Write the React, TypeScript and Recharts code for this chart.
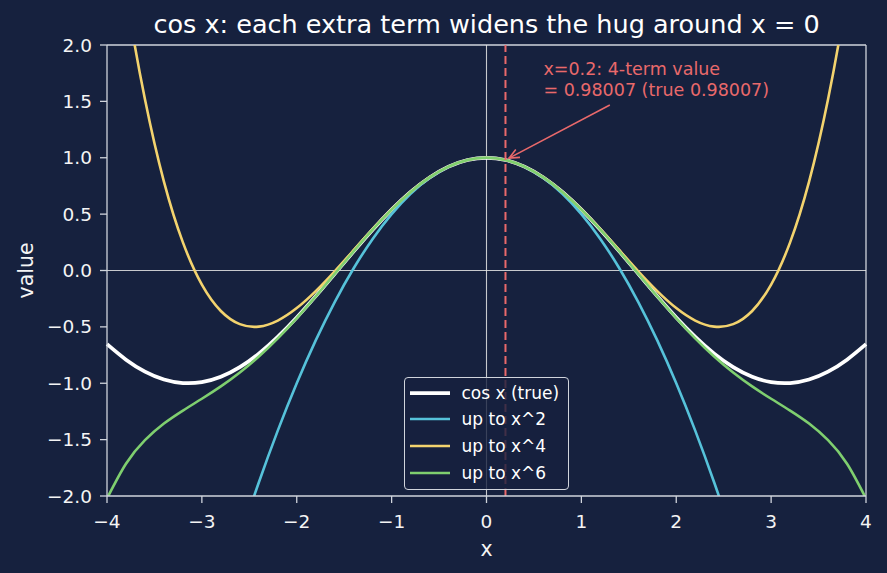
import { LineChart, Line, XAxis, YAxis, ReferenceLine, ReferenceDot, Legend } from 'recharts';

// sample points along x (step 0.2)
const xs = [
  -4, -3.8, -3.6, -3.4, -3.2, -3, -2.8, -2.6, -2.4, -2.2, -2, -1.8, -1.6, -1.4, -1.2, -1, -0.8, -0.6, -0.4, -0.2,
  0, 0.2, 0.4, 0.6, 0.8, 1, 1.2, 1.4, 1.6, 1.8, 2, 2.2, 2.4, 2.6, 2.8, 3, 3.2, 3.4, 3.6, 3.8, 4,
];

const cosTrue = [
  -0.65364, -0.79097, -0.89676, -0.9668, -0.99829, -0.98999, -0.94222, -0.85689, -0.73739, -0.5885,
  -0.41615, -0.2272, -0.0292, 0.16997, 0.36236, 0.5403, 0.69671, 0.82534, 0.92106, 0.98007,
  1,
  0.98007, 0.92106, 0.82534, 0.69671, 0.5403, 0.36236, 0.16997, -0.0292, -0.2272, -0.41615,
  -0.5885, -0.73739, -0.85689, -0.94222, -0.98999, -0.99829, -0.9668, -0.89676, -0.79097, -0.65364,
];

const upToX2 = [
  -7, -6.22, -5.48, -4.78, -4.12, -3.5, -2.92, -2.38, -1.88, -1.42,
  -1, -0.62, -0.28, 0.02, 0.28, 0.5, 0.68, 0.82, 0.92, 0.98,
  1,
  0.98, 0.92, 0.82, 0.68, 0.5, 0.28, 0.02, -0.28, -0.62, -1,
  -1.42, -1.88, -2.38, -2.92, -3.5, -4.12, -4.78, -5.48, -6.22, -7,
];

const upToX4 = [
  3.66667, 2.46807, 1.5184, 0.7881, 0.2491, -0.125, -0.35893, -0.47593, -0.4976, -0.44393,
  -0.33333, -0.1826, -0.00693, 0.18007, 0.3664, 0.54167, 0.69707, 0.8254, 0.92107, 0.98007,
  1,
  0.98007, 0.92107, 0.8254, 0.69707, 0.54167, 0.3664, 0.18007, -0.00693, -0.1826, -0.33333,
  -0.44393, -0.4976, -0.47593, -0.35893, -0.125, 0.2491, 0.7881, 1.5184, 2.46807, 3.66667,
];

const upToX6 = [
  -2.02222, -1.71379, -1.50491, -1.35746, -1.24221, -1.1375, -1.02822, -0.90498, -0.76302, -0.6014,
  -0.42222, -0.22984, -0.03023, 0.16961, 0.36225, 0.54028, 0.69671, 0.82534, 0.92106, 0.98007,
  1,
  0.98007, 0.92106, 0.82534, 0.69671, 0.54028, 0.36225, 0.16961, -0.03023, -0.22984, -0.42222,
  -0.6014, -0.76302, -0.90498, -1.02822, -1.1375, -1.24221, -1.35746, -1.50491, -1.71379, -2.02222,
];

const xTicks = [-4, -3, -2, -1, 0, 1, 2, 3, 4];
const yTicks = [-2, -1.5, -1, -0.5, 0, 0.5, 1, 1.5, 2];

const seriesKeys = ['cos', 't2', 't4', 't6'];
const seriesNames = ['cos x (true)', 'up to x^2', 'up to x^4', 'up to x^6'];
const seriesColors = ['#ffffff', '#56c2da', '#f3d36e', '#7fcf6f'];
const seriesWidths = [3.75, 2.6, 2.6, 2.6];

// annotation
const markX = 0.2;
const markY = 0.98007;
const noteX = 0.6;
const noteY = 1.55;
const arrowTail = { x: 1.3, y: 1.468 };
const noteLines = ['x=0.2: 4-term value', '= 0.98007 (true 0.98007)'];

const BG = '#16213e';
const SPINE = '#d0d4dc';
const RED = '#e9696b';
const FONT = '"DejaVu Sans", sans-serif';

const minus = (s: string) => s.replace('-', '\u2212');

function Arrow(props: any) {
  const { x1, y1, x2, y2 } = props;
  const dx = x2 - x1;
  const dy = y2 - y1;
  const len = Math.sqrt(dx * dx + dy * dy);
  const ux = dx / len;
  const uy = dy / len;
  // shrink a little at the tip like matplotlib
  const tx = x2 - ux * 4;
  const ty = y2 - uy * 4;
  const head = 11;
  const ang = 0.42;
  const bx = -ux;
  const by = -uy;
  const ax1 = tx + head * (bx * Math.cos(ang) - by * Math.sin(ang));
  const ay1 = ty + head * (bx * Math.sin(ang) + by * Math.cos(ang));
  const ax2 = tx + head * (bx * Math.cos(-ang) - by * Math.sin(-ang));
  const ay2 = ty + head * (bx * Math.sin(-ang) + by * Math.cos(-ang));
  return (
    <g stroke={RED} strokeWidth={1.6} fill="none">
      <line x1={x1} y1={y1} x2={tx} y2={ty} />
      <polyline points={`${ax1},${ay1} ${tx},${ty} ${ax2},${ay2}`} />
    </g>
  );
}

function NoteText(props: any) {
  const { cx, cy } = props;
  return (
    <text x={cx} y={cy - 20.5} fill={RED} fontSize={17.5} fontFamily={FONT}>
      <tspan x={cx} dy={0}>{noteLines[0]}</tspan>
      <tspan x={cx} dy={20.5}>{noteLines[1]}</tspan>
    </text>
  );
}

function LegendBox() {
  return (
    <div
      style={{
        boxSizing: 'border-box',
        width: 165,
        height: 113,
        border: `1.3px solid ${SPINE}`,
        borderRadius: 4,
        background: 'rgba(22,33,62,0.8)',
        paddingTop: 1.5,
        fontFamily: FONT,
        fontSize: 17,
        color: '#ffffff',
      }}
    >
      {seriesNames.map((name, i) => (
        <div key={name} style={{ height: 26.6, display: 'flex', alignItems: 'center' }}>
          <svg width={40} height={8} style={{ marginLeft: 5, marginRight: 11.5 }}>
            <line x1={0} y1={4} x2={40} y2={4} stroke={seriesColors[i]} strokeWidth={seriesWidths[i]} />
          </svg>
          <span style={{ whiteSpace: 'nowrap', lineHeight: '20px' }}>{name}</span>
        </div>
      ))}
    </div>
  );
}

export default function App() {
  const data = xs.map((x, i) => ({ x, cos: cosTrue[i], t2: upToX2[i], t4: upToX4[i], t6: upToX6[i] }));

  return (
    <div style={{ position: 'relative', width: 887, height: 573, background: BG, fontFamily: FONT }}>
      <style>{`body{margin:0;background:${BG}}`}</style>
      <div
        style={{
          position: 'absolute',
          left: 486.5,
          top: 11.5,
          transform: 'translateX(-50%)',
          whiteSpace: 'nowrap',
          fontSize: 25.5,
          lineHeight: '25.5px',
          color: '#ffffff',
        }}
      >
        cos x: each extra term widens the hug around x = 0
      </div>
      <LineChart width={887} height={573} data={data} margin={{ top: 45, right: 21, bottom: 0, left: 0 }}>
        <XAxis
          dataKey="x"
          type="number"
          domain={[-4, 4]}
          ticks={xTicks}
          tickFormatter={(v: number) => minus(String(v))}
          stroke={SPINE}
          strokeWidth={1.3}
          tick={{ fill: '#f4f4f4', fontSize: 18.5, fontFamily: FONT }}
          tickSize={7}
          tickMargin={12}
          height={77}
          label={(p: any) => (
            <text x={486.5} y={556} textAnchor="middle" fill="#f4f4f4" fontSize={20.5} fontFamily={FONT}>
              x
            </text>
          )}
        />
        <YAxis
          type="number"
          domain={[-2, 2]}
          allowDataOverflow
          ticks={yTicks}
          tickFormatter={(v: number) => minus(v.toFixed(1))}
          stroke={SPINE}
          strokeWidth={1.3}
          tick={{ fill: '#f4f4f4', fontSize: 18.5, fontFamily: FONT }}
          tickSize={7}
          tickMargin={8}
          width={107}
          label={(p: any) => (
            <text
              x={33}
              y={270.5}
              textAnchor="middle"
              transform="rotate(-90, 33, 270.5)"
              fill="#f4f4f4"
              fontSize={20.5}
              fontFamily={FONT}
            >
              value
            </text>
          )}
        />
        <ReferenceLine y={2} stroke={SPINE} strokeWidth={1.3} />
        <ReferenceLine x={4} stroke={SPINE} strokeWidth={1.3} />
        <ReferenceLine y={0} stroke="#e6e6e6" strokeWidth={1.1} strokeOpacity={0.85} />
        <ReferenceLine x={0} stroke="#e6e6e6" strokeWidth={1.1} strokeOpacity={0.85} />
        {seriesKeys.map((k, i) => (
          <Line
            key={k}
            dataKey={k}
            name={seriesNames[i]}
            type="natural"
            stroke={seriesColors[i]}
            strokeWidth={seriesWidths[i]}
            dot={false}
            activeDot={false}
            isAnimationActive={false}
          />
        ))}
        <ReferenceLine x={markX} stroke={RED} strokeWidth={2} strokeDasharray="8 4" />
        <ReferenceLine
          segment={[arrowTail, { x: markX, y: markY }]}
          shape={(p: any) => <Arrow {...p} />}
        />
        <ReferenceDot x={noteX} y={noteY} r={0} shape={(p: any) => <NoteText {...p} />} />
        <Legend
          layout="vertical"
          align="center"
          verticalAlign="middle"
          content={() => <LegendBox />}
          wrapperStyle={{ left: 404, top: 377, width: 165, height: 113 }}
        />
      </LineChart>
    </div>
  );
}
